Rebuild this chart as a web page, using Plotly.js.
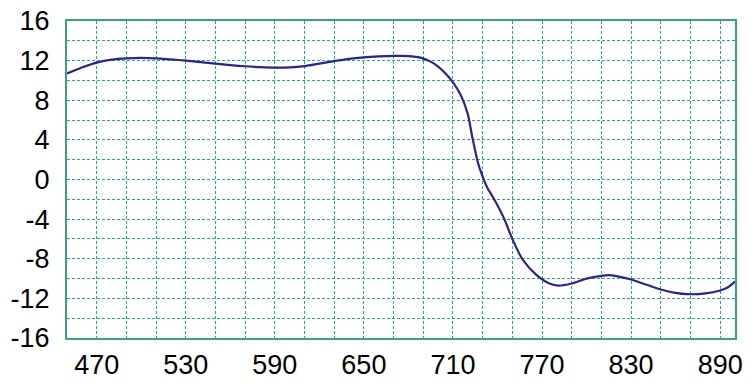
<!DOCTYPE html>
<html>
<head>
<meta charset="utf-8">
<script src="https://cdn.plot.ly/plotly-3.0.1.min.js"></script>
<style>html,body{margin:0;padding:0;background:#fff;}#chart{width:755px;height:387px;}</style>
</head>
<body>
<div id="chart"></div>
<script>
const xValues = [450, 460, 470, 480, 490, 500, 510, 520, 530, 540, 550, 560, 570, 580, 590, 600, 610, 620, 630, 640, 650, 660, 670, 680, 688, 695, 700, 705, 710, 715, 720, 723, 727, 730, 733, 737, 744, 750, 757, 766, 775, 781, 790, 800, 810, 815, 820, 830, 840, 850, 860, 868, 880, 890, 895, 900];
const yValues = [10.7, 11.3, 11.8, 12.1, 12.23, 12.27, 12.23, 12.12, 12.0, 11.85, 11.7, 11.55, 11.43, 11.35, 11.3, 11.32, 11.45, 11.7, 11.95, 12.18, 12.33, 12.42, 12.47, 12.46, 12.3, 11.9, 11.4, 10.7, 9.8, 8.6, 6.6, 4.3, 1.6, 0.3, -0.8, -1.8, -3.8, -6.0, -8.1, -9.6, -10.5, -10.72, -10.5, -10.0, -9.72, -9.66, -9.75, -10.1, -10.6, -11.1, -11.45, -11.58, -11.5, -11.2, -10.9, -10.3];
const xGridVals = [470, 490, 510, 530, 550, 570, 590, 610, 630, 650, 670, 690, 710, 730, 750, 770, 790, 810, 830, 850, 870, 890];
const xLabels = ['470', '', '', '530', '', '', '590', '', '', '650', '', '', '710', '', '', '770', '', '', '830', '', '', '890'];
const yGridVals = [-16, -14, -12, -10, -8, -6, -4, -2, 0, 2, 4, 6, 8, 10, 12, 14, 16];
const yLabels = ['-16', '', '-12', '', '-8', '', '-4', '', '0', '', '4', '', '8', '', '12', '', '16'];

const gridColor = '#2aa88a';
const borderColor = '#3a9f88';

const trace = {
  x: xValues, y: yValues, type: 'scatter', mode: 'lines',
  line: {color: '#2b2585', width: 2.2, shape: 'spline', smoothing: 0.8},
  hoverinfo: 'skip'
};

const layout = {
  width: 755, height: 387,
  margin: {l: 67, r: 20, t: 21, b: 49},
  paper_bgcolor: '#ffffff', plot_bgcolor: '#ffffff',
  showlegend: false,
  font: {family: 'Liberation Sans, Arial, sans-serif', size: 27, color: '#000'},
  xaxis: {
    range: [450, 900], tickmode: 'array', tickvals: xGridVals, ticktext: xLabels,
    showgrid: true, gridcolor: gridColor, gridwidth: 1, griddash: '3px,2px',
    zeroline: false, showline: true, mirror: true, linecolor: borderColor, linewidth: 2,
    ticks: '', ticklabelstandoff: 2, tickfont: {size: 27}
  },
  yaxis: {
    range: [-16, 16], tickmode: 'array', tickvals: yGridVals, ticktext: yLabels,
    showgrid: true, gridcolor: gridColor, gridwidth: 1, griddash: '3px,2px',
    zeroline: false, showline: true, mirror: true, linecolor: borderColor, linewidth: 2,
    ticks: '', ticklabelstandoff: 10, tickfont: {size: 27}
  }
};

Plotly.newPlot('chart', [trace], layout, {displayModeBar: false, staticPlot: true});
</script>
</body>
</html>
